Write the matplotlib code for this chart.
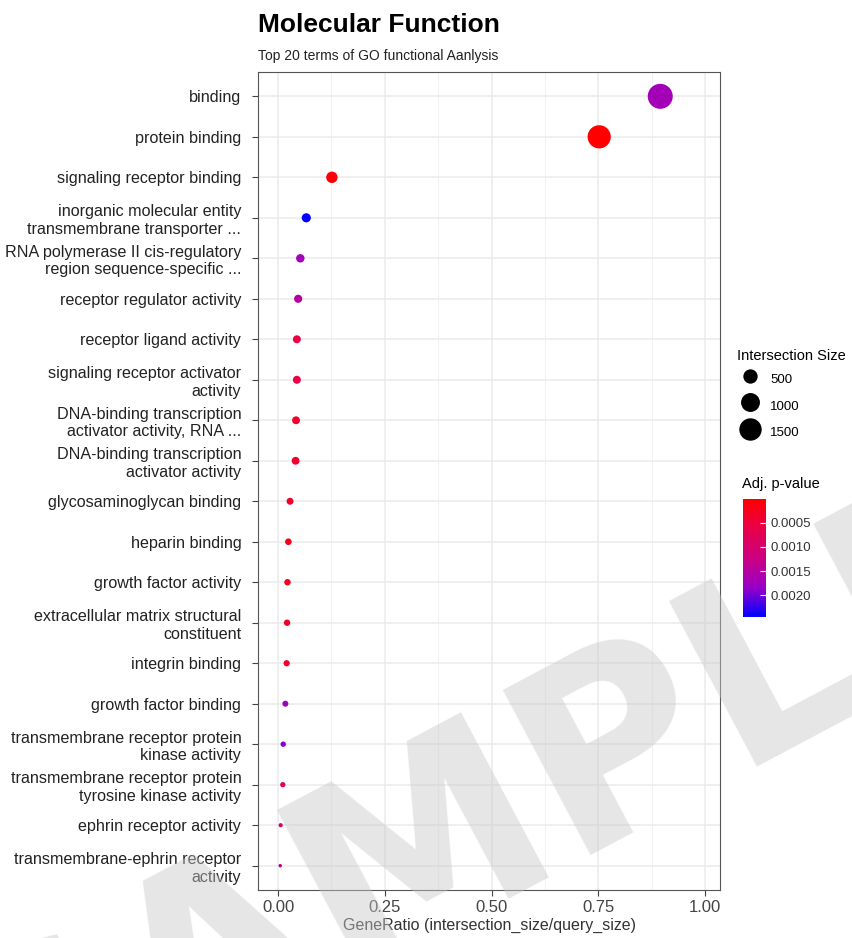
import numpy as np
import matplotlib
matplotlib.use("Agg")
import matplotlib.pyplot as plt
from matplotlib.colors import LinearSegmentedColormap, Normalize
from matplotlib.lines import Line2D

plt.rcParams["font.family"] = ["Liberation Sans", "DejaVu Sans"]

terms = ["binding", "protein binding", "signaling receptor binding",
         "inorganic molecular entity\ntransmembrane transporter ...",
         "RNA polymerase II cis-regulatory\nregion sequence-specific ...",
         "receptor regulator activity", "receptor ligand activity",
         "signaling receptor activator\nactivity",
         "DNA-binding transcription\nactivator activity, RNA ...",
         "DNA-binding transcription\nactivator activity",
         "glycosaminoglycan binding", "heparin binding", "growth factor activity",
         "extracellular matrix structural\nconstituent", "integrin binding",
         "growth factor binding",
         "transmembrane receptor protein\nkinase activity",
         "transmembrane receptor protein\ntyrosine kinase activity",
         "ephrin receptor activity",
         "transmembrane-ephrin receptor\nactivity"]
gene_ratio = [0.895, 0.752, 0.126, 0.066, 0.052, 0.047, 0.044, 0.044, 0.042, 0.041,
              0.028, 0.024, 0.022, 0.021, 0.020, 0.017, 0.012, 0.011, 0.006, 0.005]
inter_size = [1940, 1632, 273, 143, 113, 102, 95, 95, 91, 89,
              61, 52, 48, 46, 43, 37, 26, 24, 13, 11]
p_adj = [0.0017, 0.00001, 0.0001, 0.00245, 0.0017, 0.0015, 0.0006, 0.0006, 0.0004, 0.0004,
         0.0004, 0.0002, 0.0003, 0.0003, 0.0004, 0.0018, 0.0019, 0.0008, 0.0009, 0.0013]
size_breaks = [500, 1000, 1500]
p_breaks = [0.0005, 0.0010, 0.0015, 0.0020]

cmap = LinearSegmentedColormap.from_list(
    "rb", [(0, "#FF0000"), (0.25, "#E8004A"), (0.5, "#CC0080"),
           (0.75, "#9900C8"), (1, "#0000FF")])
norm = Normalize(vmin=min(p_adj), vmax=max(p_adj))

smin, smax = min(inter_size), max(inter_size)
def diam_pt(v):
    px = 3.5 + 21.5 * np.sqrt((np.asarray(v, float) - smin) / (smax - smin))
    return px * 0.72

fig = plt.figure(figsize=(8.53, 9.38), dpi=100)
ax = fig.add_axes([0.3025, 0.0512, 0.5416, 0.872])

y = np.arange(len(terms))[::-1] + 1
ax.scatter(gene_ratio, y, s=diam_pt(inter_size) ** 2, c=p_adj, cmap=cmap, norm=norm,
           linewidths=0, zorder=3)

ax.set_xlim(-0.047, 1.035)
ax.set_ylim(0.4, len(terms) + 0.6)
ax.set_yticks(y)
ax.set_yticklabels(terms, fontsize=11.6, color="#222222")
ax.set_xticks([0, 0.25, 0.5, 0.75, 1.0])
ax.set_xticklabels(["0.00", "0.25", "0.50", "0.75", "1.00"], fontsize=12, color="#444444")
ax.set_xticks([0.125, 0.375, 0.625, 0.875], minor=True)
ax.grid(True, which="major", color="#EBEBEB", lw=1.1, zorder=0)
ax.grid(True, which="minor", axis="x", color="#F2F2F2", lw=0.8, zorder=0)
ax.set_axisbelow(True)
ax.tick_params(axis="both", length=4, color="#444444", width=0.8)
ax.tick_params(axis="y", pad=8)
ax.tick_params(axis="x", which="minor", length=0)
for s in ax.spines.values():
    s.set_color("#555555"); s.set_linewidth(0.8)
ax.set_xlabel("GeneRatio (intersection_size/query_size)", fontsize=11.5,
              color="#333333", labelpad=2)

fig.text(258 / 853, 1 - 25 / 938, "Molecular Function", fontsize=19, fontweight="bold",
         va="center", ha="left")
fig.text(258 / 853, 1 - 56 / 938, "Top 20 terms of GO functional Aanlysis", fontsize=10,
         va="center", ha="left", color="#222222")

# size legend
handles = [Line2D([], [], ls="", marker="o", color="black", markeredgewidth=0,
                  markersize=float(diam_pt(b))) for b in size_breaks]
leg = fig.legend(handles, [str(b) for b in size_breaks], title="Intersection Size",
                 loc="upper left", bbox_to_anchor=(737 / 853, 1 - 349 / 938), frameon=False,
                 fontsize=9.5, title_fontsize=10.5, labelspacing=0.4, handletextpad=0.5,
                 borderaxespad=0, handlelength=2.0, handleheight=2.1, borderpad=0)
leg._legend_box.align = "left"

# colour bar
cax = fig.add_axes([743 / 853, 1 - 617 / 938, 23 / 853, 118 / 938])
cb = fig.colorbar(plt.cm.ScalarMappable(norm=norm, cmap=cmap), cax=cax, ticks=p_breaks)
cb.ax.set_yticklabels([f"{t:.4f}" for t in p_breaks], fontsize=9.5, color="#333333")
cb.ax.invert_yaxis()
cb.outline.set_visible(False)
cb.ax.tick_params(length=4, color="white", width=0.8, direction="in")
fig.text(742 / 853, 1 - 484 / 938, "Adj. p-value", fontsize=10.5, va="center", ha="left")

# watermark
fig.text(0.57, 0.125, "SAMPLE", fontsize=185, fontweight="bold", rotation=28,
         color="#C8C8C8", alpha=0.45, ha="center", va="center", zorder=10,
         family="DejaVu Sans")

fig.savefig("out.png", dpi=100)
